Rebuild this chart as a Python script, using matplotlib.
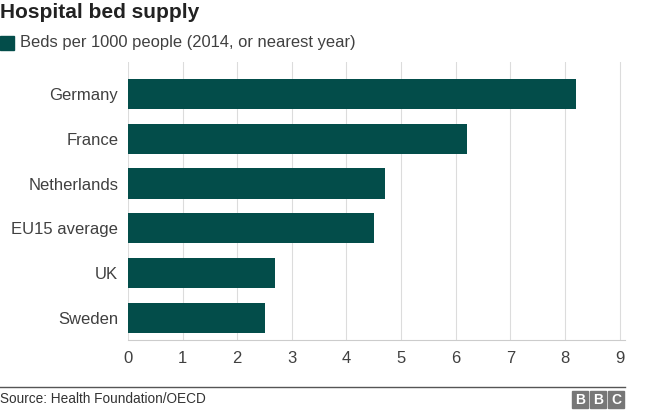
import matplotlib
matplotlib.use("Agg")
import matplotlib.pyplot as plt
from matplotlib.patches import Rectangle

plt.rcParams['font.family'] = ['Liberation Sans', 'DejaVu Sans']

categories = ["Germany", "France", "Netherlands", "EU15 average", "UK", "Sweden"]
values = [8.2, 6.2, 4.7, 4.5, 2.7, 2.5]
ticks = [0, 1, 2, 3, 4, 5, 6, 7, 8, 9]
title = "Hospital bed supply"
legend_label = "Beds per 1000 people (2014, or nearest year)"
source = "Source: Health Foundation/OECD"
color = "#034d4a"

W, H = 660, 412
fig = plt.figure(figsize=(6.6, 4.12), dpi=100)

def fx(px): return px / W
def fy(py): return 1 - py / H

ax = fig.add_axes([fx(128), fy(340), fx(625) - fx(128), fy(62) - fy(340)])
ypos = list(range(len(categories)))
ax.barh(ypos, values, height=0.67, color=color, zorder=3)
ax.set_xlim(0, 9.1)
ax.set_ylim(5.49, -0.71)
ax.set_yticks(ypos)
ax.set_yticklabels(categories, fontsize=12, color="#404040")
ax.set_xticks(ticks)
ax.set_xticklabels([str(t) for t in ticks], fontsize=12, color="#404040")
ax.tick_params(axis='y', length=0, pad=7)
ax.tick_params(axis='x', length=0, pad=8)
ax.grid(axis='x', color="#dcdcdc", linewidth=0.8, zorder=0)
for s in ["top", "right", "left"]:
    ax.spines[s].set_visible(False)
ax.spines["bottom"].set_color("#cccccc")
ax.spines["bottom"].set_linewidth(0.8)

fig.text(fx(0), fy(12), title, fontsize=15, fontweight='bold', color="#222222", va='center', ha='left')
fig.patches.append(Rectangle((fx(0), fy(50)), fx(14), fy(36) - fy(50), transform=fig.transFigure, color=color, figure=fig))
fig.text(fx(20), fy(43), legend_label, fontsize=11.9, color="#404040", va='center', ha='left')

fig.add_artist(plt.Line2D([fx(0), fx(625)], [fy(387), fy(387)], transform=fig.transFigure, color="#555555", linewidth=1))
fig.text(fx(0), fy(399), source, fontsize=9.8, color="#333333", va='center', ha='left')

for i, letter in enumerate("BBC"):
    x0 = 572 + i * 18
    fig.patches.append(Rectangle((fx(x0), fy(408)), fx(16), fy(391) - fy(408), transform=fig.transFigure, color="#777777", figure=fig))
    fig.text(fx(x0 + 8), fy(399.5), letter, fontsize=10, fontweight='bold', color="white", va='center', ha='center')

fig.savefig("out.png", dpi=100)
